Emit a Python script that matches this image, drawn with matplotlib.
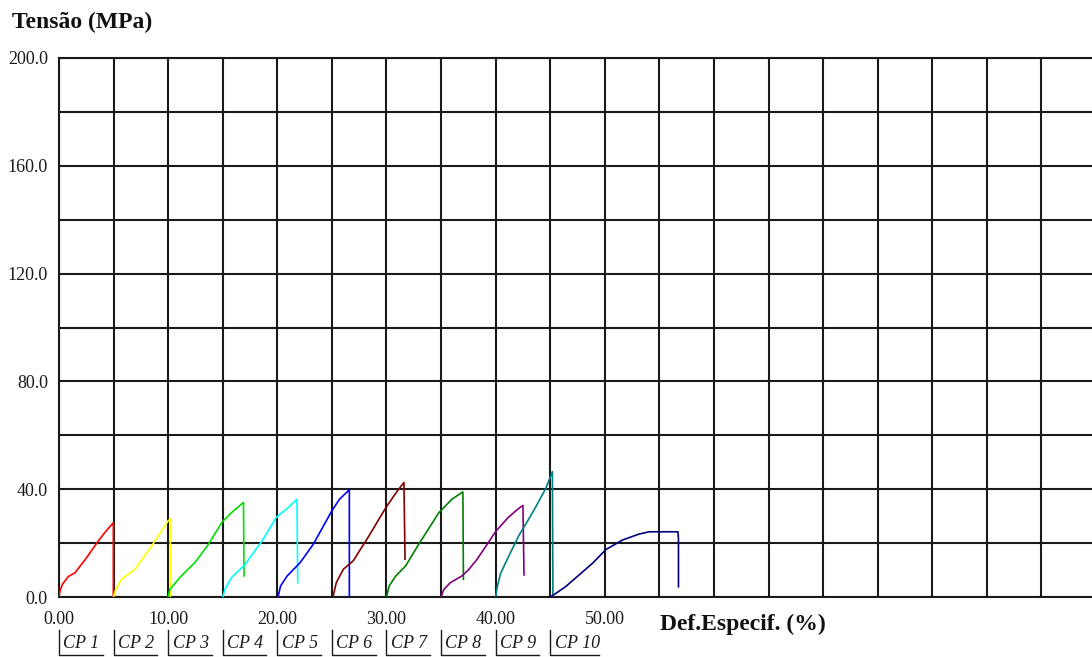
import matplotlib
matplotlib.use("Agg")
import matplotlib.pyplot as plt
import matplotlib.transforms as mtransforms

plt.rcParams.update({
    "font.family": ["Liberation Serif", "DejaVu Serif"],
    "font.size": 13,
})

# stress-strain curves (strain %, stress MPa)
cp1_x = [0.0, 0.09, 0.31, 0.85, 1.47, 2.53, 3.6, 4.2, 4.98, 4.98]
cp1_y = [0.0, 2.2, 4.7, 7.6, 9.0, 14.6, 20.8, 23.9, 27.6, 0.0]
cp2_x = [5.0, 5.2, 5.74, 6.96, 8.5, 9.4, 10.0, 10.2, 10.2]
cp2_y = [0.0, 2.8, 6.6, 10.3, 19.0, 24.5, 28.3, 28.9, 0.0]
cp3_x = [10.0, 10.15, 11.2, 12.46, 13.7, 14.9, 15.8, 16.9, 16.95]
cp3_y = [0.0, 2.8, 7.8, 12.8, 19.6, 27.6, 31.3, 35.1, 7.8]
cp4_x = [15.0, 15.2, 15.8, 17.05, 18.6, 19.9, 21.0, 21.8, 21.87]
cp4_y = [0.0, 2.8, 7.2, 12.1, 20.8, 29.5, 33.2, 36.3, 5.3]
cp5_x = [20.06, 20.3, 20.9, 22.1, 23.3, 25.0, 25.7, 26.6, 26.6]
cp5_y = [0.0, 4.1, 7.8, 12.8, 19.6, 32.0, 36.3, 39.8, 0.0]
cp6_x = [25.1, 25.4, 26.05, 26.95, 28.4, 29.95, 30.9, 31.6, 31.7]
cp6_y = [0.0, 5.3, 10.3, 13.4, 22.7, 33.2, 38.8, 42.5, 14.0]
cp7_x = [30.0, 30.25, 30.85, 31.75, 32.96, 34.8, 36.0, 37.0, 37.05]
cp7_y = [0.0, 4.1, 7.8, 11.5, 19.6, 31.3, 36.3, 39.0, 6.6]
cp8_x = [35.0, 35.25, 35.85, 36.9, 37.5, 38.3, 39.3, 40.0, 41.15, 42.0, 42.5, 42.6]
cp8_y = [0.0, 2.8, 5.3, 7.8, 10.0, 14.0, 20.0, 24.3, 29.5, 32.5, 34.0, 8.2]
cp9_x = [40.0, 40.15, 40.46, 40.9, 42.1, 43.4, 44.6, 45.2, 45.25]
cp9_y = [0.0, 3.8, 8.8, 12.6, 22.6, 31.4, 40.3, 46.5, 0.5]
cp10_x = [45.0, 45.5, 46.4, 47.65, 48.9, 50.1, 51.6, 53.1, 54.05, 56.7, 56.75, 56.75]
cp10_y = [0.0, 1.3, 3.8, 8.2, 12.6, 17.6, 21.1, 23.3, 24.2, 24.2, 21.4, 3.8]

labels = ["CP 1", "CP 2", "CP 3", "CP 4", "CP 5",
          "CP 6", "CP 7", "CP 8", "CP 9", "CP 10"]
curves_x = [cp1_x, cp2_x, cp3_x, cp4_x, cp5_x, cp6_x, cp7_x, cp8_x, cp9_x, cp10_x]
curves_y = [cp1_y, cp2_y, cp3_y, cp4_y, cp5_y, cp6_y, cp7_y, cp8_y, cp9_y, cp10_y]
label_starts = [0, 5, 10, 15, 20, 25, 30, 35, 40, 45]

x_ticks = list(range(0, 100, 5))
x_ticklabels = [f"{t:.2f}" if t % 10 == 0 and t <= 50 else "" for t in x_ticks]
y_ticks = list(range(0, 220, 20))
y_ticklabels = [f"{t:.1f}" if t % 40 == 0 else "" for t in y_ticks]

COLORS = ["#ff0000", "#ffff00", "#00e000", "#00ffff", "#0000ff",
          "#800000", "#008000", "#800080", "#008080", "#000080"]
GRID = "#1a1a1a"

W, H = 1092, 657
fig = plt.figure(figsize=(W / 100, H / 100), dpi=100)
ax = fig.add_axes([59 / W, (H - 597) / H, 1037 / W, 539 / H])

for xs, ys, c in zip(curves_x, curves_y, COLORS):
    ax.plot(xs, ys, color=c, linewidth=1.2, zorder=3)

ax.set_xlim(0, 95)
ax.set_ylim(0, 200)
ax.set_xticks(x_ticks)
ax.set_xticklabels(x_ticklabels)
ax.set_yticks(y_ticks)
ax.set_yticklabels(y_ticklabels)
ax.tick_params(length=0, labelsize=13, colors="#1a1a1a")
ax.tick_params(axis="y", pad=8)
ax.tick_params(axis="x", pad=10)
ax.grid(True, color=GRID, linewidth=1.5)
for side in ["left", "bottom", "top"]:
    ax.spines[side].set_color(GRID)
    ax.spines[side].set_linewidth(1.5)
ax.spines["right"].set_visible(False)

# specimen legend under the axis
trans = mtransforms.blended_transform_factory(ax.transData, ax.transAxes)
for x0, lab in zip(label_starts, labels):
    w = 4.5 if lab == "CP 10" else 4.0
    ax.plot([x0, x0, x0 + w], [-0.061, -0.108, -0.108], color="#1a1a1a",
            linewidth=1.0, transform=trans, clip_on=False)
    ax.text(x0 + 0.4, -0.087, lab, transform=trans, fontsize=13,
            style="italic", ha="left", va="center", color="#1a1a1a")

ax.text(55.1, -0.05, "Def.Especif. (%)", transform=trans, fontsize=17,
        fontweight="bold", ha="left", va="center", color="#111111")
fig.text(12 / W, 1 - 22 / H, "Tensão (MPa)", fontsize=17, fontweight="bold",
         ha="left", va="center", color="#111111")

fig.savefig("out.png", dpi=100)
plt.close(fig)
